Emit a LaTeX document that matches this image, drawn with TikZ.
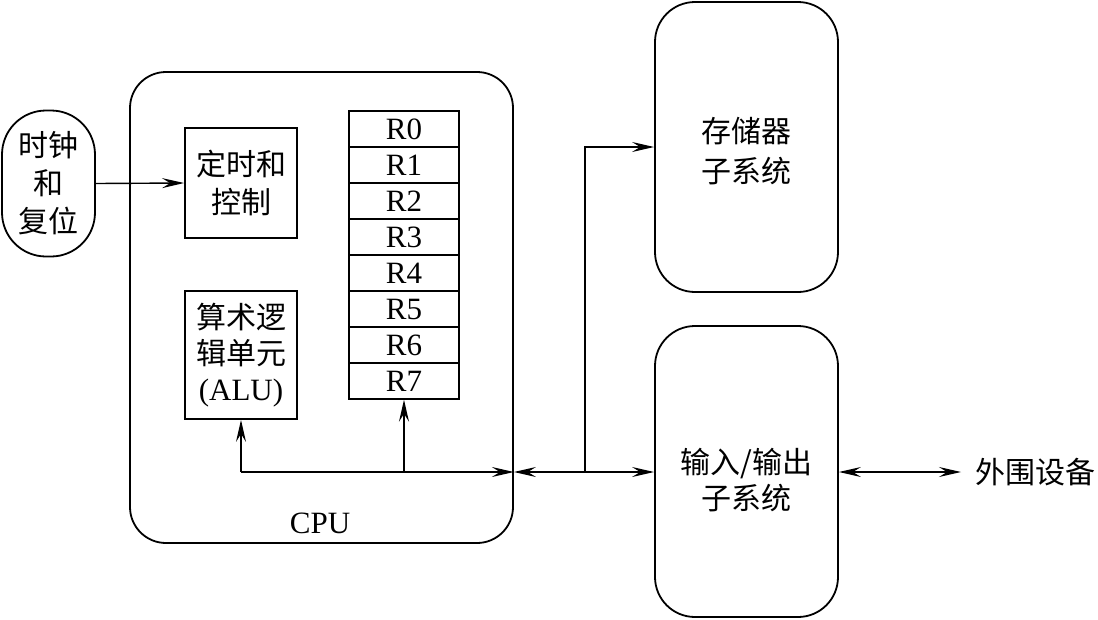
\documentclass[tikz,border=0pt]{standalone}
\usepackage{fontspec}
\setmainfont{Liberation Serif}
\newfontfamily\cjk{Noto Sans CJK SC}
\usetikzlibrary{arrows.meta}
\begin{document}
\begin{tikzpicture}[x=1pt,y=-1pt,
  box/.style={draw,line width=1.8pt,inner sep=0pt,align=center,font=\cjk\fontsize{30}{38}\selectfont},
  rbox/.style={box,rounded corners=40pt},
  txt/.style={align=center,inner sep=0pt,font=\cjk\fontsize{30}{36}\selectfont},
  reg/.style={draw,line width=1.4pt,minimum width=110pt,minimum height=36pt,inner sep=0pt,font=\fontsize{31}{32}\selectfont},
  tip/.tip={Stealth[length=22pt,width=10pt,inset=8pt]},
  arr/.style={line width=1.4pt,-tip},
  darr/.style={line width=1.4pt,tip-tip}]
\useasboundingbox (0,0) rectangle (1098,619);
\node[rbox,minimum width=383pt,minimum height=471pt,rounded corners=36pt] (cpu) at (321.5,307.5) {};
\node[font=\fontsize{31}{32}\selectfont] (cpulbl) at (320,523) {CPU};
\node[rbox,minimum width=93pt,minimum height=146pt,rounded corners=44pt] (clk) at (48.5,183.5) {时钟\\和\\复位};
\node[box,minimum width=112pt,minimum height=110pt] (tim) at (241,183) {定时和\\控制};
\node[box,minimum width=112pt,minimum height=128pt,font=\cjk\fontsize{30}{36}\selectfont] (alu) at (241,355) {算术逻\\辑单元\\{\rmfamily\fontsize{31}{36}\selectfont(ALU)}};
\foreach \i in {0,...,7}{
  \node[reg] (r\i) at (404,129+36*\i) {R\i};
}
\node[rbox,minimum width=183pt,minimum height=290pt] (mem) at (746.5,147) {};
\node[txt,font=\cjk\fontsize{30}{40}\selectfont] (memtxt) at (746.5,151) {存储器\\子系统};
\node[rbox,minimum width=183pt,minimum height=291pt] (io) at (746.5,471.5) {};
\node[txt] (iotxt) at (746.5,480) {输入/输出\\子系统};
\node[anchor=west,font=\cjk\fontsize{30}{32}\selectfont,inner ysep=0pt,inner xsep=14pt] (per) at (961,472) {外围设备};
\coordinate (busL) at (241,472);
\coordinate (busR) at (404,472);
\coordinate (br) at (585,472);
\draw[arr] (clk.east) -- (tim.west);
\draw[arr] (busL) -- (alu.south);
\draw[arr] (busR) -- (r7.south);
\draw[arr] (busL) -- (cpu.east |- busL);
\draw[darr] (cpu.east |- busL) -- (io.west |- busL);
\draw[arr] (br) |- (mem.west);
\draw[darr] (io.east |- busL) -- (per.west);
\end{tikzpicture}
\end{document}
